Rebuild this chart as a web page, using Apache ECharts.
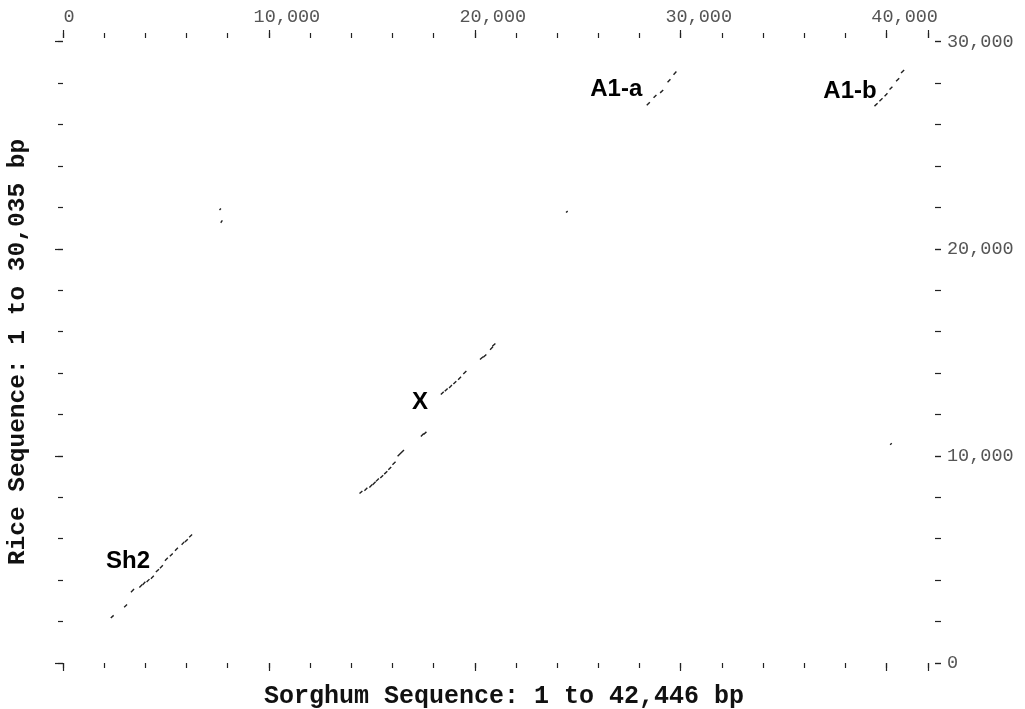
<!DOCTYPE html>
<html>
<head>
<meta charset="utf-8">
<script src="https://cdn.jsdelivr.net/npm/echarts@6/dist/echarts.min.js"></script>
<style>
html,body{margin:0;padding:0;background:#fff;}
#chart{width:1025px;height:709px;}
</style>
</head>
<body>
<div id="chart"></div>
<script>
// Sequence lengths (bp)
var sorghumLength = 42446;
var riceLength = 30035;

// Tick label values
var xTickLabels = [0, 10000, 20000, 30000, 40000];
var yTickLabels = [0, 10000, 20000, 30000];

// Dot-plot match segments [sorghumStart, riceStart, sorghumEnd, riceEnd]
var sh2Segments = [
  [2320,2170,2460,2300],[2970,2690,3110,2820],[3300,3420,3450,3570],
  [3710,3650,3850,3790],[3870,3780,4000,3920],[4060,3910,4200,4050],
  [4270,4070,4410,4210],[4510,4390,4660,4530],[4710,4580,4850,4720],
  [4950,4940,5090,5080],[5190,5150,5330,5290],[5440,5420,5580,5560],
  [5760,5710,5890,5850],[5920,5840,6060,5980],[6130,6070,6270,6200]
];
var xSegments = [
  [14400,8180,14540,8310],[14640,8320,14780,8460],[14880,8480,15020,8620],
  [15040,8610,15180,8750],[15200,8770,15340,8910],[15410,8930,15550,9070],
  [15600,9120,15750,9260],[15800,9330,15940,9470],[16000,9570,16150,9720],
  [16250,9980,16560,10290],[17380,10940,17520,11080],[17510,11030,17650,11160],
  [18350,12960,18490,13100],[18540,13120,18680,13260],[18750,13280,18890,13420],
  [18960,13470,19100,13610],[19190,13680,19330,13820],[19440,13950,19590,14100],
  [20250,14650,20400,14790],[20410,14760,20560,14900],[20740,15130,20880,15270],
  [20850,15290,21000,15430]
];
var a1aSegments = [
  [28350,26930,28500,27080],[28680,27290,28820,27430],[29000,27530,29150,27670],
  [29360,28040,29500,28190],[29650,28410,29790,28560]
];
var a1bSegments = [
  [39410,26890,39560,27030],[39650,27130,39800,27270],[39900,27370,40040,27510],
  [40140,27690,40280,27830],[40460,28090,40610,28240],[40700,28490,40850,28640]
];
var isolatedSegments = [
  [7600,21880,7670,21950],[7660,21260,7740,21370],
  [24430,21750,24510,21820],[40170,10540,40250,10610]
];

// Region annotations
var regionNames = ['Sh2', 'X', 'A1-a', 'A1-b'];
var regionSorghum = [3157, 17338, 26871, 38221];
var regionRice = [4925, 12603, 27710, 27620];

// ---- build ----
var allSegments = [].concat(sh2Segments, xSegments, a1aSegments, a1bSegments, isolatedSegments);
var lineData = [];
allSegments.forEach(function (s) {
  lineData.push([s[0], s[1]]);
  lineData.push([s[2], s[3]]);
  lineData.push(['-', '-']);
});
var labelData = regionNames.map(function (n, i) {
  return { name: n, value: [regionSorghum[i], regionRice[i]] };
});

// layout (pixels)
var GL = 63, GT = 41, GW = 874, GH = 622;
var tickMaxX = 42000, tickMaxY = 30000;
var GW2 = GW * tickMaxX / sorghumLength;
var GH2 = GH * tickMaxY / riceLength;
var yTickTop = GT + GH - GH2;
var topAxisY = 38, bottomAxisY = 663, rightAxisX = 935;

var tickLine = { color: '#222', width: 1.2 };
var labelFont = { fontFamily: 'Liberation Mono', fontSize: 18.5, color: '#555' };

function hidden(gi, max) {
  return { type: 'value', gridIndex: gi, min: 0, max: max, show: false };
}
function tickAx(gi, pos, max, interval, len, label) {
  return {
    type: 'value', gridIndex: gi, position: pos, min: 0, max: max, interval: interval,
    axisLine: { show: false, onZero: false },
    splitLine: { show: false },
    axisTick: { show: true, inside: false, length: len, lineStyle: tickLine },
    axisLabel: label || { show: false }
  };
}
function fmtX(v) {
  if (xTickLabels.indexOf(v) < 0) return '';
  return v === 0 ? '{z|0}' : '{n|' + v.toLocaleString('en-US') + '}';
}
function fmtY(v) {
  return yTickLabels.indexOf(v) < 0 ? '' : v.toLocaleString('en-US');
}

var grids = [
  { left: GL, top: GT, width: GW, height: GH },                       // 0 data
  { left: GL, top: bottomAxisY - 100, width: GW2, height: 100 },       // 1 bottom minor
  { left: GL, top: bottomAxisY - 100, width: GW2, height: 100 },       // 2 bottom major
  { left: GL, top: topAxisY, width: GW2, height: 100 },                // 3 top minor
  { left: GL, top: topAxisY, width: GW2, height: 100 },                // 4 top major + labels
  { left: GL, top: yTickTop, width: 100, height: GH2 },                // 5 left minor
  { left: GL, top: yTickTop, width: 100, height: GH2 },                // 6 left major
  { left: rightAxisX - 100, top: yTickTop, width: 100, height: GH2 },  // 7 right minor
  { left: rightAxisX - 100, top: yTickTop, width: 100, height: GH2 }   // 8 right major + labels
];

var topLabel = {
  show: true, margin: 11, formatter: fmtX,
  rich: {
    z: Object.assign({ padding: [0, 0, 0, 12] }, labelFont),
    n: Object.assign({ padding: [0, 0, 0, 36] }, labelFont)
  }
};
var rightLabel = Object.assign({ show: true, margin: 12, formatter: fmtY }, labelFont);

var chart = echarts.init(document.getElementById('chart'));
chart.setOption({
  animation: false,
  backgroundColor: '#fff',
  grid: grids,
  xAxis: [
    hidden(0, sorghumLength),
    tickAx(1, 'bottom', tickMaxX, 2000, 5),
    tickAx(2, 'bottom', tickMaxX, 10000, 8),
    tickAx(3, 'top', tickMaxX, 2000, 5),
    tickAx(4, 'top', tickMaxX, 10000, 8, topLabel),
    hidden(5, 1), hidden(6, 1), hidden(7, 1), hidden(8, 1)
  ],
  yAxis: [
    hidden(0, riceLength),
    hidden(1, 1), hidden(2, 1), hidden(3, 1), hidden(4, 1),
    tickAx(5, 'left', tickMaxY, 2000, 5),
    tickAx(6, 'left', tickMaxY, 10000, 8),
    tickAx(7, 'right', tickMaxY, 2000, 6),
    tickAx(8, 'right', tickMaxY, 10000, 6, rightLabel)
  ],
  graphic: [
    { type: 'text', x: 504, y: 697,
      style: { text: 'Sorghum Sequence: 1 to 42,446 bp', font: 'bold 25px "Liberation Mono"', fill: '#111', textAlign: 'center', textVerticalAlign: 'middle' } },
    { type: 'text', x: 18, y: 352, rotation: Math.PI / 2,
      style: { text: 'Rice Sequence: 1 to 30,035 bp', font: 'bold 24.5px "Liberation Mono"', fill: '#111', textAlign: 'center', textVerticalAlign: 'middle' } }
  ],
  series: [
    { type: 'line', xAxisIndex: 0, yAxisIndex: 0, data: lineData, showSymbol: false, symbol: 'none',
      connectNulls: false, lineStyle: { color: '#222', width: 1.4 } },
    { type: 'scatter', xAxisIndex: 0, yAxisIndex: 0, data: labelData, symbolSize: 0,
      itemStyle: { opacity: 1 },
      label: { show: true, position: 'inside', formatter: '{b}', fontFamily: 'Liberation Sans', fontWeight: 'bold', fontSize: 24, color: '#000', opacity: 1 } }
  ]
});
</script>
</body>
</html>
